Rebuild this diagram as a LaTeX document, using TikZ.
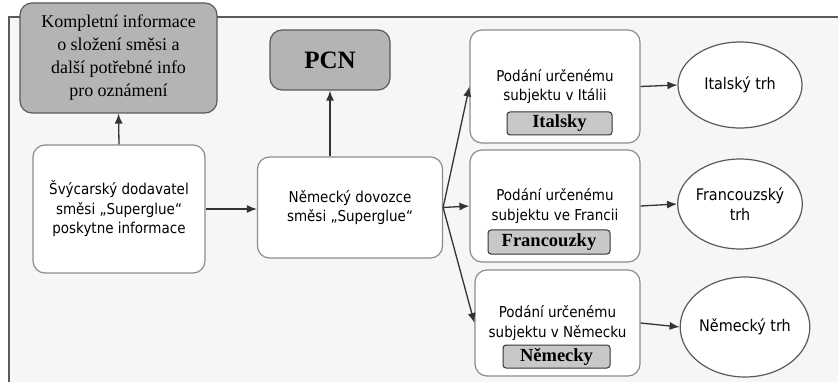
\documentclass[tikz,border=0pt]{standalone}
\usepackage{fontspec}
\setmainfont{Liberation Serif}
\newfontfamily\boxsans{DejaVu Sans Condensed}
\usetikzlibrary{arrows.meta,shapes.geometric}
\definecolor{bgc}{HTML}{F6F6F6}
\definecolor{framec}{HTML}{5A5A5A}
\definecolor{darkbox}{HTML}{B4B4B4}
\definecolor{tagc}{HTML}{C8C8C8}
\definecolor{edgec}{HTML}{8C8C8C}
\tikzset{
  graybox/.style={draw=framec, line width=1.2pt, fill=darkbox, rounded corners=12pt, align=center, inner sep=0pt},
  whitebox/.style={draw=edgec, line width=1.2pt, fill=white, rounded corners=12pt, align=center, inner sep=0pt, font=\boxsans\fontsize{15}{19.5}\selectfont},
  tagbox/.style={draw=black!80, line width=1pt, fill=tagc, rounded corners=3pt, inner sep=0pt, font=\bfseries\fontsize{18.5}{20}\selectfont},
  market/.style={ellipse, draw=framec, line width=1.2pt, fill=white, align=center, inner sep=0pt, font=\boxsans\fontsize{16}{20}\selectfont},
  arr/.style={draw=black!80, line width=1.3pt, -{Latex[length=10pt,width=8pt]}},
}
\begin{document}
\begin{tikzpicture}[x=1pt,y=-1pt]
\useasboundingbox (0,0) rectangle (838,382);
\fill[bgc] (9,17) rectangle (838,382);
\draw[framec, line width=1.3pt] (9,382) -- (9,17) -- (838,17);

\node[graybox, minimum width=197pt, minimum height=110pt, font=\fontsize{18}{23}\selectfont] (info) at (118.5,58)
  {Kompletní informace\\o složení směsi a\\další potřebné info\\pro oznámení};
\node[whitebox, minimum width=172pt, minimum height=128pt] (swiss) at (119,209)
  {Švýcarský dodavatel\\směsi „Superglue“\\poskytne informace};
\node[graybox, minimum width=120pt, minimum height=60pt, font=\bfseries\fontsize{25}{28}\selectfont] (pcn) at (330,60) {PCN};
\node[whitebox, minimum width=185pt, minimum height=101pt] (imp) at (350,207.5)
  {Německý dovozce\\směsi „Superglue“};

\node[whitebox, minimum width=170pt, minimum height=113pt] (it) at (555,86.5)
  {Podání určenému\\subjektu v Itálii};
\node[whitebox, minimum width=170pt, minimum height=112pt] (fr) at (555,206)
  {Podání určenému\\subjektu ve Francii};
\node[whitebox, minimum width=165pt, minimum height=106pt] (de) at (557.5,323)
  {Podání určenému\\subjektu v Německu};

\node[tagbox, minimum width=105pt, minimum height=23pt] (itag) at (559.5,123.5) {Italsky};
\node[tagbox, minimum width=122pt, minimum height=24pt] (ftag) at (549,242) {Francouzky};
\node[tagbox, minimum width=107pt, minimum height=23pt] (dtag) at (556.5,356.5) {Německy};

\node[market, minimum width=124pt, minimum height=86pt] (itm) at (740,85) {Italský trh};
\node[market, minimum width=124pt, minimum height=90pt] (frm) at (740,204) {Francouzský\\trh};
\node[market, minimum width=125pt, minimum height=100pt] (dem) at (745,327) {Německý trh};

\draw[arr] (swiss.north) -- (info.south);
\draw[arr] (imp.north -| pcn.south) -- (pcn.south);
\draw[arr] (swiss.east) -- (swiss.east -| imp.west);
\coordinate (split) at (imp.east);
\draw[arr] (split) -- (it.west);
\draw[arr] (split) -- (fr.west);
\draw[arr] (split) -- (de.west);
\draw[arr] (it.east) -- (itm.west);
\draw[arr] (fr.east) -- (frm.west);
\draw[arr] (de.east) -- (dem.west);
\end{tikzpicture}
\end{document}
